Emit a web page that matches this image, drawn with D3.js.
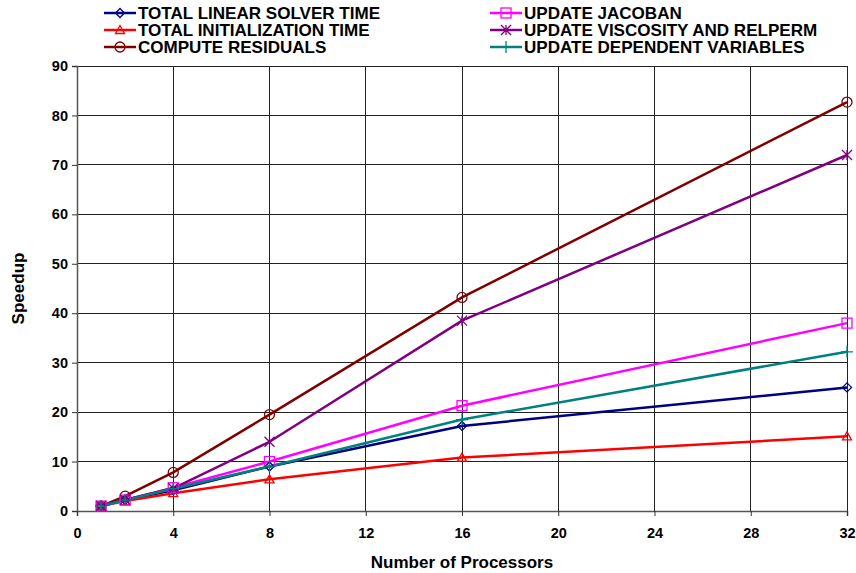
<!DOCTYPE html>
<html>
<script src='https://d3js.org/d3.v7.min.js'></script>
<style>
body { margin: 0; background: #fff; }
text { font-family: 'Liberation Sans', Arial, sans-serif; font-weight: bold; }
</style>
<body>
<svg width=856 height=573></svg>
<script>

var processors = [1, 2, 4, 8, 16, 32];

var seriesNames = ["TOTAL LINEAR SOLVER TIME", "TOTAL INITIALIZATION TIME", "COMPUTE RESIDUALS",
                   "UPDATE JACOBAN", "UPDATE VISCOSITY AND RELPERM", "UPDATE DEPENDENT VARIABLES"];

var linearSolver   = [1, 2.2, 4.2, 9.0, 17.2, 25.0];
var initialization = [1, 2.0, 3.6, 6.4, 10.8, 15.1];
var residuals      = [1, 3.0, 7.8, 19.5, 43.2, 82.7];
var jacobian       = [1, 2.2, 4.7, 10.0, 21.3, 38.0];
var viscosity      = [1, 2.3, 4.6, 14.0, 38.5, 72.0];
var dependent      = [1, 2.2, 4.5, 9.0, 18.5, 32.2];

var xTicks = [0, 4, 8, 12, 16, 20, 24, 28, 32];
var yTicks = [0, 10, 20, 30, 40, 50, 60, 70, 80, 90];

var colors = ["#000080", "#ff0000", "#800000", "#ff00ff", "#800080", "#008080"];
var symbols = ["diamond", "triangle", "circle", "square", "star", "plus"];
var allValues = [linearSolver, initialization, residuals, jacobian, viscosity, dependent];

var svg = d3.select("svg");
var plotLeft = 77, plotRight = 847, plotTop = 66, plotBottom = 511;

var x = d3.scaleLinear().domain([0, 32]).range([plotLeft, plotRight]);
var y = d3.scaleLinear().domain([0, 90]).range([plotBottom, plotTop]);

// grid
svg.append("g").selectAll("line").data(yTicks).enter().append("line")
    .attr("x1", plotLeft).attr("x2", plotRight)
    .attr("y1", function(d) { return y(d); }).attr("y2", function(d) { return y(d); })
    .attr("stroke", "#222").attr("stroke-width", 1).attr("shape-rendering", "crispEdges");
svg.append("g").selectAll("line").data(xTicks.slice(1)).enter().append("line")
    .attr("y1", plotTop).attr("y2", plotBottom)
    .attr("x1", function(d) { return x(d); }).attr("x2", function(d) { return x(d); })
    .attr("stroke", "#222").attr("stroke-width", 1).attr("shape-rendering", "crispEdges");

// axes
var yAxis = svg.append("g")
    .attr("transform", "translate(" + plotLeft + ",0)")
    .call(d3.axisLeft(y).tickValues(yTicks).tickSize(5).tickPadding(4));
var xAxis = svg.append("g")
    .attr("transform", "translate(0," + plotBottom + ")")
    .call(d3.axisBottom(x).tickValues(xTicks).tickSize(5).tickPadding(12));
[xAxis, yAxis].forEach(function(a) {
    a.select(".domain").attr("stroke", "#555").attr("stroke-width", 1.5);
    a.selectAll(".tick line").attr("stroke", "#333");
    a.selectAll(".tick text").attr("fill", "#000").style("font-size", "14.5px")
        .style("font-family", "'Liberation Sans', Arial, sans-serif").style("font-weight", "bold");
});

function drawSymbol(g, type, color) {
    if (type === "diamond") {
        g.append("path").attr("d", "M0,-4.5L4.5,0L0,4.5L-4.5,0Z");
    } else if (type === "triangle") {
        g.append("path").attr("d", "M0,-4.5L4.5,3.5L-4.5,3.5Z");
    } else if (type === "circle") {
        g.append("circle").attr("r", 5);
    } else if (type === "square") {
        g.append("rect").attr("x", -5).attr("y", -5).attr("width", 10).attr("height", 10);
    } else if (type === "star") {
        g.append("path").attr("d", "M-5,-5L5,5M-5,5L5,-5M0,-5L0,5");
    } else if (type === "plus") {
        g.append("path").attr("d", "M-6,0L6,0M0,-6L0,6");
    }
    g.selectAll("*").attr("fill", "none").attr("stroke", color).attr("stroke-width", 1.3);
}

var line = d3.line()
    .x(function(d, i) { return x(processors[i]); })
    .y(function(d) { return y(d); });

allValues.forEach(function(vals, s) {
    svg.append("path").datum(vals)
        .attr("d", line)
        .attr("fill", "none")
        .attr("stroke", colors[s])
        .attr("stroke-width", 2.5);
});
allValues.forEach(function(vals, s) {
    vals.forEach(function(v, i) {
        var g = svg.append("g").attr("transform", "translate(" + x(processors[i]) + "," + y(v) + ")");
        drawSymbol(g, symbols[s], colors[s]);
    });
});

// legend
seriesNames.forEach(function(name, s) {
    var col = Math.floor(s / 3), row = s % 3;
    var lx = col === 0 ? 104 : 490, ly = 13 + row * 17;
    svg.append("line").attr("x1", lx).attr("x2", lx + 32).attr("y1", ly).attr("y2", ly)
        .attr("stroke", colors[s]).attr("stroke-width", 2.5);
    var g = svg.append("g").attr("transform", "translate(" + (lx + 16) + "," + ly + ")");
    drawSymbol(g, symbols[s], colors[s]);
    svg.append("text")
        .attr("transform", "translate(" + (lx + 34) + "," + (ly + 6) + ") scale(1.1,1.05)")
        .style("font-size", "15.5px").text(name);
});

// axis titles
svg.append("text")
    .attr("x", (plotLeft + plotRight) / 2).attr("y", 568)
    .attr("text-anchor", "middle").style("font-size", "17px")
    .text("Number of Processors");
svg.append("text")
    .attr("transform", "translate(24," + ((plotTop + plotBottom) / 2) + ") rotate(-90)")
    .attr("text-anchor", "middle").style("font-size", "17px")
    .text("Speedup");

</script>
</body>
</html>
